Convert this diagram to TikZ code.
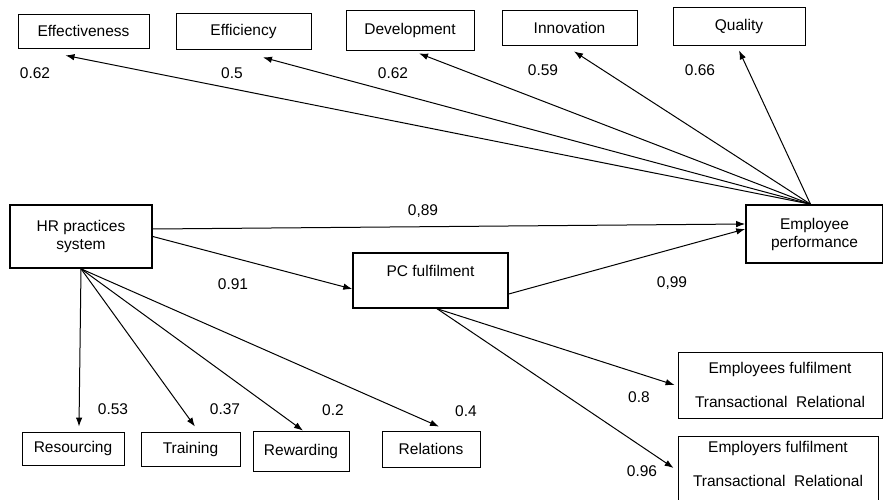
\documentclass[tikz,border=0pt]{standalone}
\usepackage{fontspec}
\setmainfont{Liberation Sans}
\usepackage{tikz}
\usetikzlibrary{arrows.meta, positioning}

\begin{document}
\begin{tikzpicture}[x=1pt, y=-1pt, >={Latex[length=9pt,width=6.5pt]},
    every node/.style={font=\fontsize{15.5}{18}\selectfont},
    box/.style={rectangle, draw, line width=0.8pt, inner sep=2pt},
    mainbox/.style={rectangle, draw, line width=1.6pt, align=center, inner sep=2pt},
    link/.style={->, line width=1pt},
    coef/.style={inner sep=0pt}]
    \useasboundingbox (0,0) rectangle (883,500);

    % outcome dimensions
    \node[box, minimum width=131pt, minimum height=34pt] (eff) at (83.5,31) {Effectiveness};
    \node[box, minimum width=135pt, minimum height=36pt] (effic) at (243.5,31) {Efficiency};
    \node[box, minimum width=128pt, minimum height=40pt] (dev) at (410,30) {Development};
    \node[box, minimum width=135pt, minimum height=35pt] (innov) at (569.5,27.5) {Innovation};
    \node[box, minimum width=132pt, minimum height=38pt] (qual) at (739,26) {Quality};

    % main constructs
    \node[mainbox, minimum width=142pt, minimum height=63pt] (hr) at (81,236.5) {HR practices\\system};
    \node[box, align=center, line width=1.4pt, minimum width=155pt, minimum height=55pt] (pc) at (430.5,280.5) {PC fulfilment\\[2pt] \mbox{}};
    \node[mainbox, minimum width=137pt, minimum height=58pt] (ep) at (814.5,234) {Employee\\performance};

    % HR practices
    \node[box, minimum width=102pt, minimum height=33pt] (res) at (73,448.5) {Resourcing};
    \node[box, minimum width=99pt, minimum height=34pt] (train) at (190.5,449) {Training};
    \node[box, minimum width=96pt, minimum height=40pt] (rew) at (301,451) {Rewarding};
    \node[box, minimum width=98pt, minimum height=36pt] (rel) at (431,449) {Relations};

    % fulfilment
    \node[box, align=center, minimum width=204pt, minimum height=66pt] (emps) at (780,385) {Employees fulfilment\\[16pt]Transactional\ \ Relational};
    \node[box, align=center, anchor=north, minimum width=200pt, inner ysep=5pt] (emprs) at (778,436) {Employers fulfilment\\[16pt]Transactional\ \ Relational\rule[-24pt]{0pt}{0pt}};

    % links to outcomes
    \draw[link] ([xshift=-4pt]ep.north) -- ([xshift=-18pt,yshift=-7pt]eff.south);
    \draw[link] ([xshift=-4pt]ep.north) -- ([xshift=19.5pt,yshift=-8pt]effic.south);
    \draw[link] ([xshift=-4pt]ep.north) -- ([xshift=9pt,yshift=-3pt]dev.south);
    \draw[link] ([xshift=-4pt]ep.north) -- ([xshift=4.5pt,yshift=-6pt]innov.south);
    \draw[link] ([xshift=-4pt]ep.north) -- ([yshift=-5pt]qual.south);

    % structural paths
    \draw[link] ([yshift=7.5pt]hr.east) -- ([yshift=10pt]ep.west);
    \draw[link] (hr.east) -- ([yshift=-8.5pt]pc.west);
    \draw[link] ([yshift=-13.5pt]pc.east) -- ([yshift=5pt]ep.west);

    % HR practices fan
    \draw[link] (hr.south) -- ([xshift=6pt,yshift=5pt]res.north);
    \draw[link] (hr.south) -- ([xshift=4.5pt,yshift=5pt]train.north);
    \draw[link] (hr.south) -- ([xshift=2pt]rew.north);
    \draw[link] (hr.south) -- ([xshift=8pt,yshift=4pt]rel.north);

    % fulfilment fan
    \draw[link] ([xshift=6.5pt]pc.south) -- ([xshift=-3pt]emps.west);
    \draw[link] ([xshift=6.5pt]pc.south) -- ([xshift=-4pt,yshift=-32pt]emprs.north west);

    % coefficients
    \node[coef] (c1) at (35,73) {0.62};
    \node[coef] (c2) at (232,73) {0.5};
    \node[coef] (c3) at (393,73) {0.62};
    \node[coef] (c4) at (543,70) {0.59};
    \node[coef] (c5) at (700,70) {0.66};
    \node[coef] (c6) at (423,211) {0,89};
    \node[coef] (c7) at (233,284) {0.91};
    \node[coef] (c8) at (672,283) {0,99};
    \node[coef] (c9) at (113,409) {0.53};
    \node[coef] (c10) at (225,409) {0.37};
    \node[coef] (c11) at (333,410) {0.2};
    \node[coef] (c12) at (466,411) {0.4};
    \node[coef] (c13) at (639,397) {0.8};
    \node[coef] (c14) at (642,471) {0.96};
\end{tikzpicture}
\end{document}
